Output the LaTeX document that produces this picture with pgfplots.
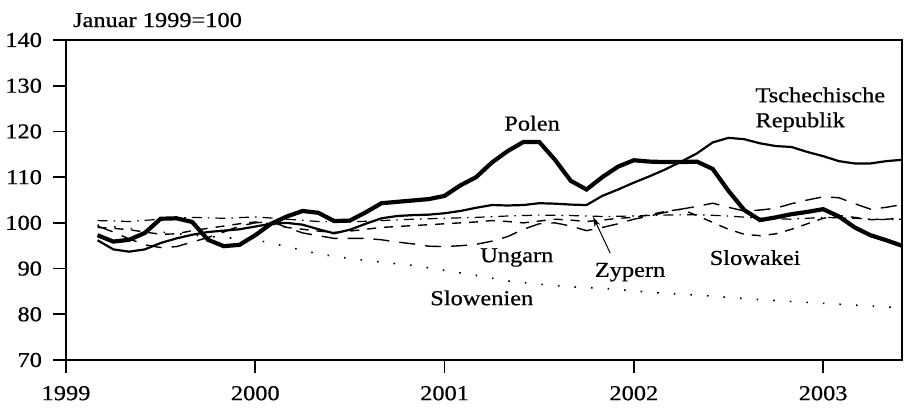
\documentclass[border=0pt]{standalone}
\usepackage{fontspec}
\setmainfont{Liberation Serif}[FakeStretch=1.15,FakeBold=0.6]
\usepackage{pgfplots}
\usepackage{pgfplotstable}
\pgfplotsset{compat=1.18}
\usetikzlibrary{arrows.meta}

\pgfplotstableread{
m v
2 97.3
3 95.9
4 96.3
5 97.8
6 100.9
7 101.0
8 100.2
9 96.3
10 94.9
11 95.2
12 97.3
13 99.8
14 101.4
15 102.6
16 102.2
17 100.4
18 100.5
19 102.3
20 104.3
21 104.6
22 104.9
23 105.2
24 105.9
25 108.2
26 110.0
27 113.2
28 115.7
29 117.7
30 117.7
31 113.8
32 109.2
33 107.3
34 110.0
35 112.3
36 113.7
37 113.4
38 113.3
39 113.3
40 113.4
41 111.8
42 107.0
43 102.8
44 100.6
45 101.2
46 101.9
47 102.4
48 103.0
49 101.4
50 99.0
51 97.3
52 96.2
53 95.0
}\polen

\pgfplotstableread{
m v
2 96.2
3 94.2
4 93.7
5 94.2
6 95.6
7 96.6
8 97.4
9 98.0
10 98.3
11 98.6
12 99.2
13 99.8
14 100.0
15 99.6
16 98.6
17 97.7
18 98.5
19 99.8
20 101.0
21 101.5
22 101.7
23 101.8
24 102.1
25 102.6
26 103.3
27 103.9
28 103.8
29 103.9
30 104.3
31 104.2
32 104.0
33 103.9
34 105.9
35 107.3
36 108.8
37 110.2
38 111.7
39 113.4
40 115.2
41 117.6
42 118.6
43 118.3
44 117.4
45 116.8
46 116.6
47 115.5
48 114.6
49 113.5
50 113.0
51 113.0
52 113.5
53 113.8
}\tschech

\pgfplotstableread{
m v
2 99.3
3 98.0
4 96.5
5 95.2
6 94.6
7 94.8
8 95.8
9 96.8
10 98.0
11 99.3
12 100.0
13 100.3
14 99.0
15 97.8
16 97.2
17 96.6
18 96.6
19 96.6
20 96.3
21 95.8
22 95.4
23 94.9
24 94.8
25 95.0
26 95.3
27 96.0
28 97.0
29 98.6
30 99.8
31 100.0
32 99.3
33 98.3
34 99.0
35 99.8
36 100.8
37 101.5
38 102.3
39 103.0
40 103.6
41 104.3
42 103.4
43 102.6
44 102.8
45 103.2
46 104.2
47 105.0
48 105.7
49 105.5
50 104.2
51 103.0
52 103.4
53 104.0
}\ungarn

\pgfplotstableread{
m v
2 99.0
3 98.8
4 98.5
5 98.0
6 97.5
7 97.6
8 98.3
9 98.8
10 99.3
11 99.8
12 100.2
13 99.8
14 99.0
15 98.6
16 98.2
17 97.9
18 98.2
19 98.6
20 99.0
21 99.2
22 99.4
23 99.6
24 99.8
25 100.0
26 100.2
27 100.5
28 100.3
29 100.0
30 100.4
31 100.8
32 100.6
33 100.3
34 100.6
35 101.0
36 101.2
37 101.8
38 102.5
39 103.0
40 101.6
41 100.1
42 98.6
43 97.5
44 97.2
45 97.6
46 98.6
47 99.8
48 101.0
49 101.6
50 101.2
51 100.7
52 100.8
53 101.0
}\slowakei

\pgfplotstableread{
m v
2 100.5
4 100.3
6 100.8
8 101.2
10 101.0
12 101.3
14 100.8
16 100.3
18 100.2
20 100.5
22 100.8
24 101.0
26 101.2
28 101.5
30 101.7
32 101.6
34 101.4
36 101.5
38 101.7
40 101.8
42 101.5
44 101.0
46 100.8
48 101.2
50 101.0
52 100.7
53 100.8
}\zypern

\pgfplotstableread{
m v
2 99.5
4 98.8
6 98.0
8 97.3
10 96.8
12 96.3
14 94.8
16 93.2
18 92.2
20 91.4
22 90.7
24 89.6
26 88.5
28 87.3
30 86.6
32 86.0
34 85.7
36 85.1
38 84.6
40 84.2
42 83.7
44 83.2
46 82.8
48 82.4
50 82.0
52 81.6
53 81.5
}\slowenien

\begin{document}
\begin{tikzpicture}
\useasboundingbox (-33pt,-24pt) rectangle (419pt,180pt);
\begin{axis}[
  at={(0,0)}, anchor=south west,
  scale only axis,
  width=418pt, height=160pt,
  xmin=0, xmax=53, ymin=70, ymax=140,
  xtick={0,12,24,36,48},
  xticklabels={1999,2000,2001,2002,2003},
  ytick={70,80,90,100,110,120,130,140},
  tick align=outside,
  xtick pos=bottom, ytick pos=left,
  major tick length=6.5pt,
  axis line style={line width=0.8pt},
  tick style={line width=0.8pt, black},
  tick label style={font=\fontsize{10.6}{12}\selectfont},
  /pgf/number format/assume math mode=true,
  xticklabel style={yshift=-3pt},
  yticklabel style={xshift=-2pt},
  clip=false,
]
\addplot[black, line width=0.7pt, dash pattern=on 8pt off 5pt] table[x=m,y=v] {\ungarn};
\addplot[black, line width=0.7pt, dash pattern=on 4.5pt off 4pt] table[x=m,y=v] {\slowakei};
\addplot[black, line width=0.6pt, dash pattern=on 5pt off 3pt on 0.8pt off 3pt] table[x=m,y=v] {\zypern};
\addplot[black, line width=0.8pt, dash pattern=on 0.8pt off 7.5pt] table[x=m,y=v] {\slowenien};
\addplot[black, line width=1.1pt] table[x=m,y=v] {\tschech};
\addplot[black, line width=2.1pt] table[x=m,y=v] {\polen};

\begin{scope}[font=\fontsize{10.6}{12.5}\selectfont]
\node[anchor=base west] at (rel axis cs:0,1) [yshift=6.5pt] {Januar 1999=100};
\node[anchor=base] at (axis cs:29.55,120.2) {Polen};
\node[anchor=north west, align=left, inner sep=0pt] at (axis cs:43.69,129.7) {Tschechische\\Republik};
\node[anchor=base] at (axis cs:28.58,91.4) {Ungarn};
\node[anchor=base] at (axis cs:35.76,88.2) {Zypern};
\node[anchor=base] at (axis cs:43.69,90.8) {Slowakei};
\node[anchor=base] at (axis cs:26.36,82.0) {Slowenien};
\end{scope}
\draw[-{Stealth[length=5pt,width=3pt]}, line width=0.5pt] (axis cs:34.5,93.4) -- (axis cs:33.42,101.3);
\end{axis}
\end{tikzpicture}
\end{document}
